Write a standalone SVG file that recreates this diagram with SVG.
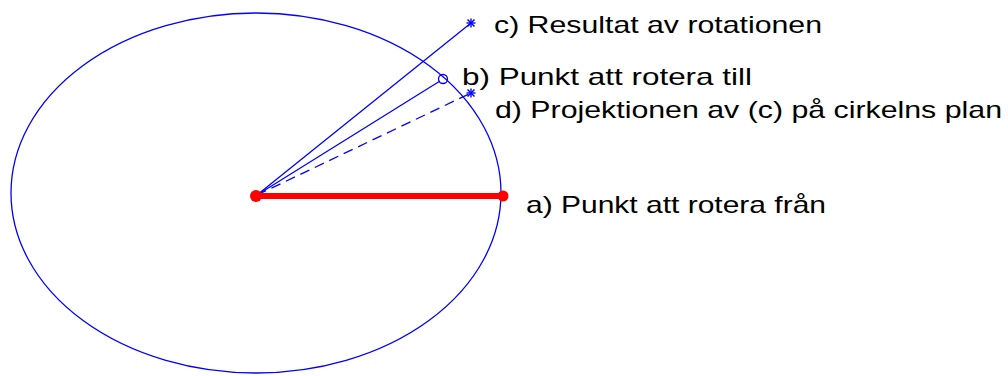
<svg xmlns="http://www.w3.org/2000/svg" width="1008" height="376" viewBox="0 0 1008 376">
  <style>
    .lbl { font-family: "Liberation Sans", Arial, sans-serif; font-size: 24px; fill: #000; }
    .blue { stroke: #0000ff; stroke-width: 1.3; fill: none; }
    .star { stroke: #0000ff; stroke-width: 1.4; fill: none; }
  </style>
  <defs>
    <g id="asterisk">
      <line x1="-4.5" y1="0" x2="4.5" y2="0"/>
      <line x1="0" y1="-4.5" x2="0" y2="4.5"/>
      <line x1="-3.5" y1="-3.5" x2="3.5" y2="3.5"/>
      <line x1="-3.5" y1="3.5" x2="3.5" y2="-3.5"/>
    </g>
  </defs>
  <rect width="1008" height="376" fill="#fff"/>
  <g id="circle">
    <ellipse cx="256" cy="193" rx="245" ry="180" class="blue" stroke-width="1.5"/>
  </g>
  <g id="connectors">
    <line x1="257" y1="195" x2="471" y2="23" class="blue"/>
    <line x1="257" y1="195" x2="440" y2="81" class="blue"/>
    <line x1="257" y1="195" x2="471" y2="93" class="blue" stroke-dasharray="10,6"/>
    <line x1="256" y1="196" x2="503" y2="196" stroke="#ff0000" stroke-width="6"/>
  </g>
  <g id="center">
    <circle cx="256" cy="196" r="6" fill="#ff0000"/>
  </g>
  <g id="point-a">
    <circle cx="503" cy="196" r="5.5" fill="#ff0000"/>
    <text class="lbl" x="526" y="213" textLength="300" lengthAdjust="spacingAndGlyphs">a) Punkt att rotera från</text>
  </g>
  <g id="point-b">
    <circle cx="443" cy="79" r="4.5" class="blue"/>
    <text class="lbl" x="462" y="85" textLength="290" lengthAdjust="spacingAndGlyphs">b) Punkt att rotera till</text>
  </g>
  <g id="point-c">
    <use href="#asterisk" x="471" y="23" class="star"/>
    <text class="lbl" x="494" y="33" textLength="328" lengthAdjust="spacingAndGlyphs">c) Resultat av rotationen</text>
  </g>
  <g id="point-d">
    <use href="#asterisk" x="471" y="93" class="star"/>
    <text class="lbl" x="495" y="118" textLength="507" lengthAdjust="spacingAndGlyphs">d) Projektionen av (c) på cirkelns plan</text>
  </g>
</svg>
